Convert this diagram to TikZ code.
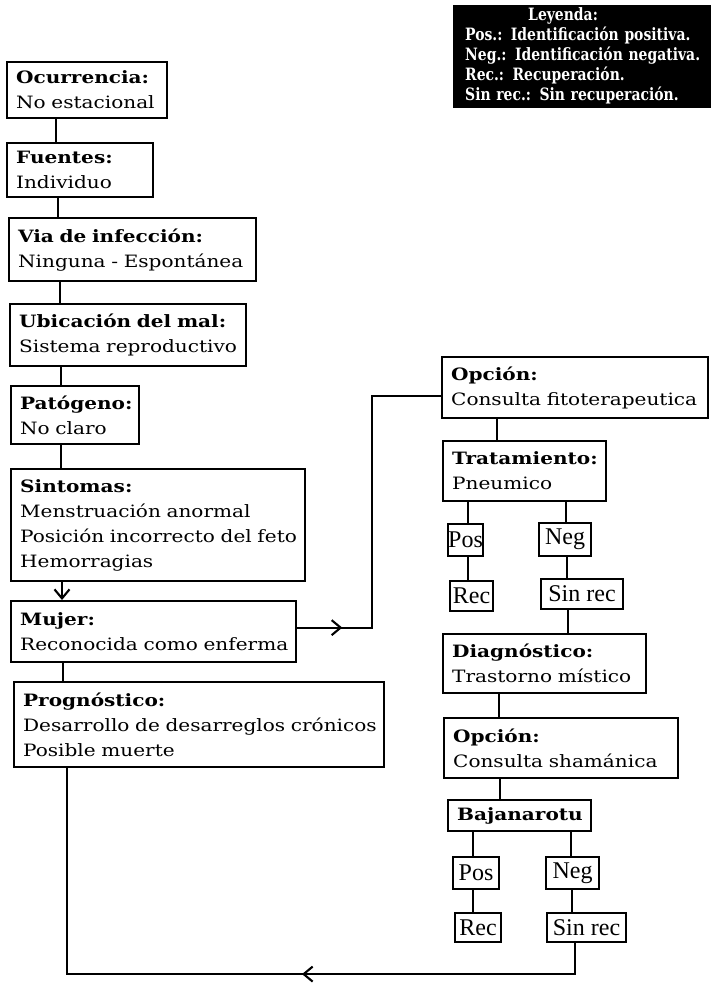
\documentclass[tikz,border=0pt]{standalone}
\usepackage{fontspec}
\setmainfont[FakeStretch=1.18]{DejaVu Serif}
\newfontfamily\legfont[FakeStretch=0.82]{DejaVu Serif}
\newfontfamily\tagfont{Liberation Serif}
\usetikzlibrary{arrows.meta,decorations.markings}
\newcommand\mainsz{\fontsize{17}{25}\selectfont}
\tikzset{
  box/.style={draw, line width=2.3pt, rectangle, anchor=north west, align=left,
    inner xsep=9pt, inner ysep=0pt, font=\mainsz},
  tag/.style={draw, line width=2.1pt, rectangle, anchor=north west, inner sep=0pt,
    font=\tagfont\fontsize{24}{24}\selectfont},
  legendbox/.style={fill=black, draw=black, rectangle, anchor=north west, align=left,
    text=white, inner xsep=12pt, inner ysep=0pt, text width=233pt,
    minimum height=102pt, font=\legfont\bfseries\fontsize{17}{20}\selectfont},
  flow/.style={line width=2.1pt},
  barb/.style={-{Straight Barb[length=9pt,width=15pt]}},
  midarrow/.style={postaction={decorate}, decoration={markings,
    mark=at position #1 with {\arrow{Straight Barb[length=9pt,width=15pt]}}}}
}
\begin{document}
\begin{tikzpicture}[x=1pt,y=-1pt]
\useasboundingbox (0,0) rectangle (712,984);

% legend
\node[legendbox] (leg) at (453,5) {\hspace*{63pt}Leyenda:\\
  \mbox{Pos.: Identificación positiva.}\\
  \mbox{Neg.: Identificación negativa.}\\
  \mbox{Rec.: Recuperación.}\\
  \mbox{Sin rec.: Sin recuperación.}};

% left column
\node[box, text width=142pt, minimum height=56pt] (occ) at (6,61)
  {\textbf{Ocurrencia:}\\\mbox{No estacional}};
\node[box, text width=128pt, minimum height=54pt] (fue) at (6,142)
  {\textbf{Fuentes:}\\\mbox{Individuo}};
\node[box, text width=229pt, minimum height=63pt] (via) at (8,217)
  {\textbf{\mbox{Via de infección:}}\\\mbox{Ninguna - Espontánea}};
\node[box, text width=218pt, minimum height=62pt] (ubi) at (9,303)
  {\textbf{\mbox{Ubicación del mal:}}\\\mbox{Sistema reproductivo}};
\node[box, text width=110pt, minimum height=58pt] (pat) at (10,385)
  {\textbf{Patógeno:}\\\mbox{No claro}};
\node[box, text width=276pt, minimum height=112pt] (sin) at (10,468)
  {\textbf{Sintomas:}\\\mbox{Menstruación anormal}\\\mbox{Posición incorrecto del feto}\\\mbox{Hemorragias}};
\node[box, text width=267pt, minimum height=61pt] (muj) at (10,600)
  {\textbf{Mujer:}\\\mbox{Reconocida como enferma}};
\node[box, text width=352pt, minimum height=85pt] (pro) at (13,681)
  {\textbf{Prognóstico:}\\\mbox{Desarrollo de desarreglos crónicos}\\\mbox{Posible muerte}};

% right column
\node[box, text width=248pt, minimum height=61pt] (op1) at (441,356)
  {\textbf{Opción:}\\\mbox{Consulta fitoterapeutica}};
\node[box, text width=145pt, minimum height=60pt] (tra) at (442,440)
  {\textbf{Tratamiento:}\\\mbox{Pneumico}};
\node[tag, minimum width=35pt, minimum height=32pt] (pos1) at (447,523) {Pos};
\node[tag, minimum width=52pt, minimum height=33pt] (neg1) at (538,522) {Neg};
\node[tag, minimum width=43pt, minimum height=30pt] (rec1) at (449,580) {Rec};
\node[tag, minimum width=82pt, minimum height=30pt] (sr1) at (540,578) {Sin rec};
\node[box, text width=185pt, minimum height=59pt] (dia) at (442,633)
  {\textbf{Diagnóstico:}\\\mbox{Trastorno místico}};
\node[box, text width=216pt, minimum height=60pt] (op2) at (443,717)
  {\textbf{Opción:}\\\mbox{Consulta shamánica}};
\node[box, text width=125pt, minimum height=31pt] (baj) at (447,799)
  {\textbf{Bajanarotu}};
\node[tag, minimum width=46pt, minimum height=32pt] (pos2) at (452,856) {Pos};
\node[tag, minimum width=53pt, minimum height=32pt] (neg2) at (545,856) {Neg};
\node[tag, minimum width=46pt, minimum height=29pt] (rec2) at (454,912) {Rec};
\node[tag, minimum width=79pt, minimum height=29pt] (sr2) at (546,912) {Sin rec};

% left column connectors
\draw[flow] ([xshift=50pt]occ.south west) -- ([xshift=50pt]occ.south west |- fue.north);
\draw[flow] ([xshift=52pt]fue.south west) -- ([xshift=52pt]fue.south west |- via.north);
\draw[flow] ([xshift=52pt]via.south west) -- ([xshift=52pt]via.south west |- ubi.north);
\draw[flow] ([xshift=52pt]ubi.south west) -- ([xshift=52pt]ubi.south west |- pat.north);
\draw[flow] ([xshift=51pt]pat.south west) -- ([xshift=51pt]pat.south west |- sin.north);
\draw[flow, barb] ([xshift=52pt]sin.south west) -- ([xshift=52pt]sin.south west |- muj.north);
\draw[flow] ([xshift=53pt]muj.south west) -- ([xshift=53pt]muj.south west |- pro.north);

% branch to the herbal consultation
\draw[flow, midarrow=45pt] ([yshift=4pt]muj.east) -- ++(75,0) |- ([yshift=-8pt]op1.west);

% right column connectors
\draw[flow] ([xshift=56pt]op1.south west) -- ([xshift=56pt]op1.south west |- tra.north);
\draw[flow] ([xshift=26pt]tra.south west) -- ([xshift=26pt]tra.south west |- pos1.north);
\draw[flow] ([xshift=124pt]tra.south west) -- ([xshift=124pt]tra.south west |- neg1.north);
\draw[flow] ([xshift=21pt]pos1.south west) -- ([xshift=21pt]pos1.south west |- rec1.north);
\draw[flow] ([xshift=29pt]neg1.south west) -- ([xshift=29pt]neg1.south west |- sr1.north);
\draw[flow] ([xshift=28pt]sr1.south west) -- ([xshift=28pt]sr1.south west |- dia.north);
\draw[flow] ([xshift=57pt]dia.south west) -- ([xshift=57pt]dia.south west |- op2.north);
\draw[flow] ([xshift=57pt]op2.south west) -- ([xshift=57pt]op2.south west |- baj.north);
\draw[flow] ([xshift=26pt]baj.south west) -- ([xshift=26pt]baj.south west |- pos2.north);
\draw[flow] ([xshift=124pt]baj.south west) -- ([xshift=124pt]baj.south west |- neg2.north);
\draw[flow] ([xshift=21pt]pos2.south west) -- ([xshift=21pt]pos2.south west |- rec2.north);
\draw[flow] ([xshift=27pt]neg2.south west) -- ([xshift=27pt]neg2.south west |- sr2.north);

% return path to the prognosis
\draw[flow, midarrow=304pt] ([xshift=29pt]sr2.south west) -- ++(0,31) -| ([xshift=54pt]pro.south west);
\end{tikzpicture}
\end{document}
